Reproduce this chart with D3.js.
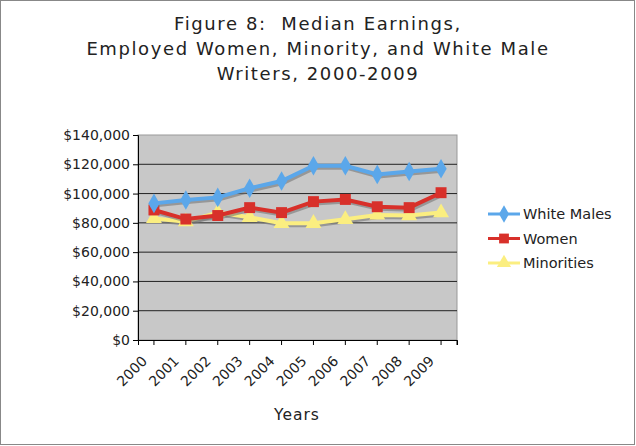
<!DOCTYPE html>
<html><head><meta charset="utf-8">
<script src="https://cdn.jsdelivr.net/npm/d3@7"></script>
<style>body{margin:0;background:#fff}svg{font-family:"DejaVu Sans",Verdana,sans-serif}</style>
</head><body><svg id="c" width="636" height="446"></svg>
<script>
const years = ["2000","2001","2002","2003","2004","2005","2006","2007","2008","2009"];
const whiteMales = [93300,95600,97400,103600,108600,119000,119000,113000,115000,117000];
const women = [88800,82600,85000,90400,87000,94500,96000,91000,90400,100600];
const minorities = [83000,80800,87000,83800,79700,79700,82400,85400,85000,87000];
const yTicks = [0,20000,40000,60000,80000,100000,120000,140000];

const svg = d3.select("#c");
svg.append("rect").attr("x",0.5).attr("y",0.5).attr("width",634).attr("height",444)
  .attr("fill","#fff").attr("stroke","#888");

const title = ["Figure 8:  Median Earnings,","Employed Women, Minority, and White Male","Writers, 2000-2009"];
svg.append("text").attr("text-anchor","middle").attr("font-size",18).attr("fill","#222")
  .attr("xml:space","preserve").style("white-space","pre")
  .selectAll("tspan").data(title).join("tspan")
  .attr("x",318).attr("y",(d,i)=>30+i*25).attr("letter-spacing",1.6).text(d=>d);

const L=138, R=457, T=135, B=340;
const x = d3.scaleBand().domain(years).range([L,R]);
const y = d3.scaleLinear().domain([0,140000]).range([B,T]);

svg.append("rect").attr("x",L).attr("y",T).attr("width",R-L).attr("height",B-T)
  .attr("fill","#c8c8c8").attr("stroke","#999");
svg.append("g").selectAll("line").data(yTicks.slice(1,-1)).join("line")
  .attr("x1",L).attr("x2",R).attr("y1",d=>y(d)).attr("y2",d=>y(d)).attr("stroke","#222");

const ya = svg.append("g").attr("transform",`translate(${L},0)`)
  .call(d3.axisLeft(y).tickValues(yTicks).tickSize(5).tickFormat(d=>"$"+d3.format(",")(d)));
ya.selectAll("text").attr("font-size",14).attr("fill","#222").attr("font-family","DejaVu Sans");
svg.append("g").attr("transform",`translate(0,${B})`)
  .call(d3.axisBottom(x).tickSize(5).tickFormat(""));
svg.append("line").attr("x1",R).attr("x2",R).attr("y1",B).attr("y2",B+5).attr("stroke","#000");
svg.append("g").selectAll("text").data(years).join("text")
  .attr("transform",d=>`translate(${x(d)+x.bandwidth()/2-6},${B+22}) rotate(-45)`)
  .attr("text-anchor","end").attr("font-size",14).attr("fill","#222").text(d=>d);
svg.append("text").attr("x",297).attr("y",420).attr("text-anchor","middle")
  .attr("font-size",15.5).attr("letter-spacing",1).attr("fill","#222").text("Years");

const cx = d => x(d)+x.bandwidth()/2;
const series = [
  {name:"White Males",vals:whiteMales,color:"#5ba7ea",shape:d3.symbolDiamond,size:110},
  {name:"Women",vals:women,color:"#d8302a",shape:d3.symbolSquare,size:120},
  {name:"Minorities",vals:minorities,color:"#fbee80",shape:d3.symbolTriangle,size:110}
];
const line = d3.line().x((d,i)=>cx(years[i])).y(d=>y(d));
[...series].reverse().forEach(s=>{
  const g = svg.append("g");
  g.append("path").attr("d",line(s.vals)).attr("fill","none").attr("stroke","#777")
    .attr("stroke-opacity",0.6).attr("stroke-width",4).attr("transform","translate(1.5,2)");
  g.append("path").attr("d",line(s.vals)).attr("fill","none").attr("stroke",s.color).attr("stroke-width",4);
  g.selectAll("path.m").data(s.vals).join("path").attr("class","m")
    .attr("transform",(d,i)=>`translate(${cx(years[i])},${y(d)})`)
    .attr("d",d3.symbol(s.shape,s.size)).attr("fill",s.color);
});

const lg = svg.append("g");
series.forEach((s,i)=>{
  const yy = 214+i*24.5;
  lg.append("line").attr("x1",488).attr("x2",520).attr("y1",yy).attr("y2",yy).attr("stroke",s.color).attr("stroke-width",3);
  lg.append("path").attr("transform",`translate(504,${yy})`).attr("d",d3.symbol(s.shape,s.size*0.8)).attr("fill",s.color);
  lg.append("text").attr("x",523).attr("y",yy+5).attr("font-size",14.5).attr("fill","#222").text(s.name);
});
</script></body></html>
